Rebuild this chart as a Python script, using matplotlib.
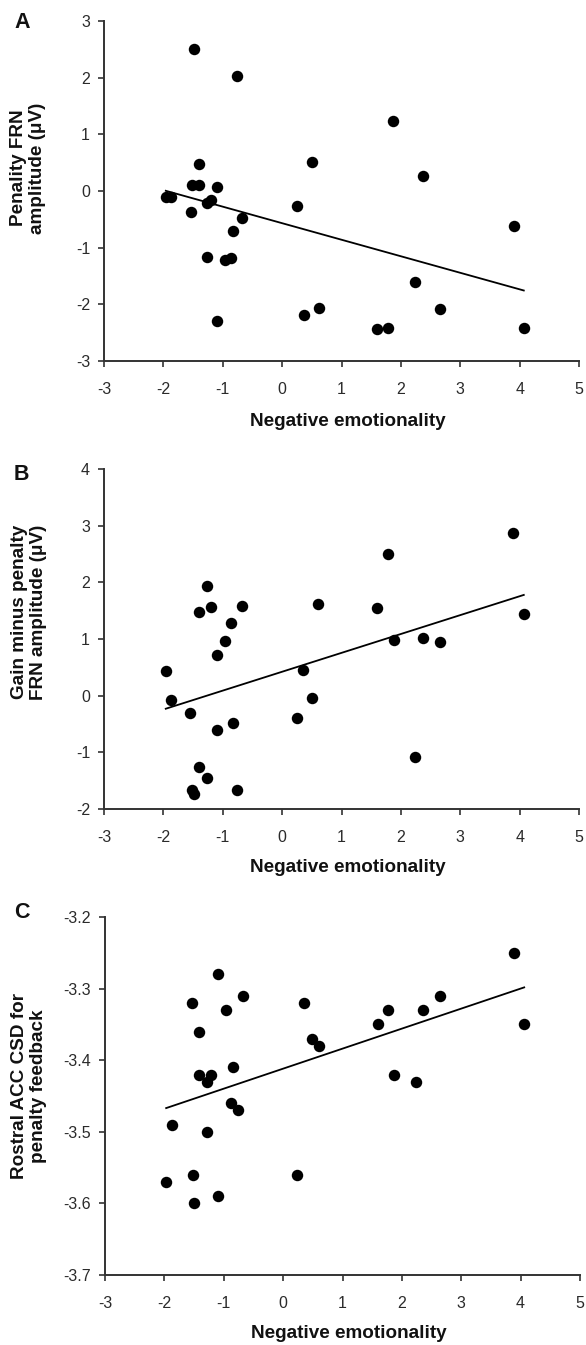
import numpy as np
import matplotlib
matplotlib.use("Agg")
import matplotlib.pyplot as plt

plt.rcParams['font.family'] = ['Liberation Sans', 'DejaVu Sans']
plt.rcParams['axes.unicode_minus'] = False

# ---- data ----
xa = [-1.49, -0.76, -1.40, -1.51, -1.40, -1.09, -1.96, -1.87, -1.20, -1.27, -1.535, -0.67, -0.83,
      -1.27, -0.96, -0.86, -1.09, 0.50, 0.255, 0.36, 0.625, 1.87, 2.38, 3.90, 2.24, 2.66, 1.60, 1.79, 4.07]
ya = [2.51, 2.03, 0.48, 0.10, 0.10, 0.065, -0.11, -0.11, -0.15, -0.22, -0.37, -0.48, -0.70,
      -1.16, -1.22, -1.19, -2.29, 0.51, -0.26, -2.19, -2.06, 1.23, 0.265, -0.62, -1.61, -2.08, -2.44, -2.41, -2.41]

xb = [-1.96, -1.87, -1.55, -1.40, -1.27, -1.20, -1.09, -0.96, -0.86, -0.67, -1.09, -0.83, -1.40,
      -1.27, -1.51, -1.49, -0.76, 0.255, 0.345, 0.50, 0.61, 3.89, 1.78, 1.60, 1.88, 2.37, 2.66, 4.07, 2.23]
yb = [0.43, -0.07, -0.30, 1.48, 1.94, 1.57, 0.72, 0.97, 1.28, 1.59, -0.61, -0.48, -1.25,
      -1.45, -1.66, -1.74, -1.67, -0.39, 0.46, -0.04, 1.61, 2.87, 2.50, 1.54, 0.98, 1.01, 0.94, 1.44, -1.09]

xc = [-1.10, -1.54, -0.68, -0.97, 0.35, -1.41, 0.49, 0.60, -1.41, -1.21, -1.28, -0.84, -0.88,
      -0.76, -1.87, -1.28, -1.51, -1.97, -1.09, -1.50, 0.24, 3.89, 2.65, 1.77, 2.36, 1.59, 4.06, 1.87, 2.23]
yc = [-3.28, -3.32, -3.31, -3.33, -3.32, -3.36, -3.37, -3.38, -3.42, -3.42, -3.43, -3.41, -3.46,
      -3.47, -3.49, -3.50, -3.56, -3.57, -3.59, -3.60, -3.56, -3.25, -3.31, -3.33, -3.33, -3.35, -3.35, -3.42, -3.43]

xticks = [-3, -2, -1, 0, 1, 2, 3, 4, 5]
yticks_a = [-3, -2, -1, 0, 1, 2, 3]
yticks_b = [-2, -1, 0, 1, 2, 3, 4]
yticks_c = [-3.7, -3.6, -3.5, -3.4, -3.3, -3.2]
ylabels_c = ['-3.7', '-3.6', '-3.5', '-3.4', '-3.3', '-3.2']

panel_letters = ['A', 'B', 'C']
ylabels = ['Penality FRN\namplitude (\u03bcV)',
           'Gain minus penalty\nFRN amplitude (\u03bcV)',
           'Rostral ACC CSD for\npenalty feedback']
xlabel = 'Negative emotionality'

W, H = 586, 1345
fig = plt.figure(figsize=(W / 100, H / 100), dpi=100)

# axes boxes in pixels: left, right, top, bottom
boxes = [(104, 579, 21, 361), (104, 579, 469, 809), (105, 580, 917, 1275)]
datasets = [(xa, ya, yticks_a, None), (xb, yb, yticks_b, None), (xc, yc, yticks_c, ylabels_c)]
ylab_pos = [(28, 168), (29, 612), (29, 1086)]
letter_pos = [(14, 23), (14, 475), (14, 912)]
xlab_pos = [(348, 422), (348, 868), (349, 1333)]

spine_col = '#333333'
for i, ((l, r, t, b), (x, y, yt, ytl)) in enumerate(zip(boxes, datasets)):
    ax = fig.add_axes([l / W, 1 - b / H, (r - l) / W, (b - t) / H])
    ax.scatter(x, y, s=68, color='black', zorder=3, linewidths=0)
    xs = np.array(x)
    ys = np.array(y)
    k, c0 = np.polyfit(xs, ys, 1)
    lx = np.array([xs.min(), xs.max()])
    ax.plot(lx, k * lx + c0, color='black', lw=1.3, zorder=2)
    ax.set_xlim(-3, 5)
    ax.set_ylim(min(yt), max(yt))
    ax.set_xticks(xticks)
    ax.set_xticklabels([str(v) for v in xticks])
    ax.set_yticks(yt)
    if ytl is not None:
        ax.set_yticklabels(ytl)
    else:
        ax.set_yticklabels([str(v) for v in yt])
    for s in ['top', 'right']:
        ax.spines[s].set_visible(False)
    for s in ['left', 'bottom']:
        ax.spines[s].set_color(spine_col)
        ax.spines[s].set_linewidth(1.4)
    ax.tick_params(axis='both', direction='out', length=4.5, width=1.2, color=spine_col,
                   labelsize=11.5, labelcolor='#2a2a2a')
    ax.tick_params(axis='x', pad=10.5)
    ax.tick_params(axis='y', pad=5.5)
    ax.patch.set_alpha(0)

    fig.text(ylab_pos[i][0] / W, 1 - ylab_pos[i][1] / H, ylabels[i], rotation=90,
             ha='center', va='center', fontsize=13.6, fontweight='bold', color='#111111',
             linespacing=1.12, multialignment='center')
    fig.text(letter_pos[i][0] / W, 1 - letter_pos[i][1] / H, panel_letters[i],
             ha='left', va='center', fontsize=15.5, fontweight='bold', color='#111111')
    fig.text(xlab_pos[i][0] / W, 1 - xlab_pos[i][1] / H, xlabel,
             ha='center', va='center', fontsize=13.6, fontweight='bold', color='#111111')

fig.savefig('out.png', dpi=100)
